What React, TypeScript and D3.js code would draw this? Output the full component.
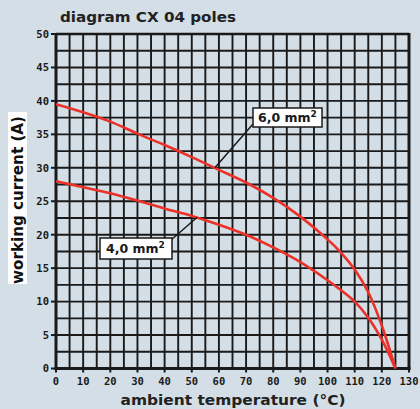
import React from "react";
import * as d3 from "d3";

const temps = [0, 10, 20, 30, 40, 50, 60, 70, 80, 90, 100, 105, 110, 115, 120, 125];
const current6 = [39.5, 38.3, 36.9, 35.1, 33.4, 31.6, 29.7, 27.8, 25.5, 22.7, 19.3, 17.3, 14.8, 11.4, 6.4, 0];
const current4 = [28.0, 27.1, 26.2, 25.1, 23.9, 22.8, 21.5, 20.0, 18.1, 15.9, 13.2, 11.7, 10.0, 7.6, 4.3, 0];
const xTicks = [0, 10, 20, 30, 40, 50, 60, 70, 80, 90, 100, 110, 120, 130];
const yTicks = [0, 5, 10, 15, 20, 25, 30, 35, 40, 45, 50];
const title = "diagram CX 04 poles";
const xLabel = "ambient temperature (°C)";
const yLabel = "working current (A)";

const W = 420;
const H = 409;
const BG = "#d3dee6";
const INK = "#1a1a1a";
const RED = "#ec3128";

export default function App() {
  const x = d3.scaleLinear().domain([0, 130]).range([56, 409]);
  const y = d3.scaleLinear().domain([0, 50]).range([368.5, 34]);

  const vGrid = d3.range(5, 130, 5);
  const hGrid = d3.range(2.5, 50, 2.5);

  const line = d3
    .line<number>()
    .x((_, i) => x(temps[i]))
    .y((d) => y(d))
    .curve(d3.curveCatmullRom.alpha(0.5));

  const mono = "'DejaVu Sans Mono', monospace";
  const sans = "'DejaVu Sans', sans-serif";

  return (
    <svg
      width={W}
      height={H}
      style={{ position: "absolute", left: 0, top: 0, background: BG }}
    >
      <rect x={0} y={0} width={W} height={H} fill={BG} />
      {/* grid */}
      {vGrid.map((v) => (
        <line key={"v" + v} x1={x(v)} x2={x(v)} y1={y(50)} y2={y(0)} stroke={INK} strokeWidth={1.9} />
      ))}
      {hGrid.map((v) => (
        <line key={"h" + v} x1={x(0)} x2={x(130)} y1={y(v)} y2={y(v)} stroke={INK} strokeWidth={1.9} />
      ))}
      {/* frame */}
      <line x1={x(0)} x2={x(130)} y1={y(50)} y2={y(50)} stroke={INK} strokeWidth={2.5} />
      <line x1={x(130)} x2={x(130)} y1={y(50) - 1} y2={y(0) + 1} stroke={INK} strokeWidth={3} />
      <line x1={x(0)} x2={x(0)} y1={y(50) - 1} y2={y(0) + 1.5} stroke={INK} strokeWidth={3} />
      <line x1={x(0) - 1.5} x2={x(130) + 1.5} y1={y(0)} y2={y(0)} stroke={INK} strokeWidth={3} />
      {/* ticks */}
      {yTicks.map((t) => (
        <line key={"yt" + t} x1={x(0) - 5} x2={x(0)} y1={y(t)} y2={y(t)} stroke={INK} strokeWidth={2} />
      ))}
      {xTicks.map((t) => (
        <line key={"xt" + t} x1={x(t)} x2={x(t)} y1={y(0)} y2={y(0) + 4} stroke={INK} strokeWidth={2} />
      ))}
      {/* tick labels */}
      {yTicks.map((t) => (
        <text
          key={"yl" + t}
          x={49}
          y={y(t) + 3.8}
          textAnchor="end"
          fontFamily={mono}
          fontWeight="bold"
          fontSize={10.5}
          fill={INK}
        >
          {t}
        </text>
      ))}
      {xTicks.map((t) => (
        <text
          key={"xl" + t}
          x={x(t)}
          y={384.5}
          textAnchor="middle"
          fontFamily={mono}
          fontWeight="bold"
          fontSize={10.5}
          fill={INK}
        >
          {t}
        </text>
      ))}
      {/* curves */}
      <path d={line(current6) || ""} fill="none" stroke={RED} strokeWidth={2.6} />
      <path d={line(current4) || ""} fill="none" stroke={RED} strokeWidth={2.6} />
      {/* leaders */}
      <line x1={253} y1={124} x2={x(58.5)} y2={y(30)} stroke={INK} strokeWidth={1.5} />
      <line x1={171} y1={240} x2={x(52)} y2={y(22.6)} stroke={INK} strokeWidth={1.5} />
      {/* label boxes */}
      <rect x={253} y={108} width={69} height={19} fill="#fff" stroke={INK} strokeWidth={1.5} />
      <text x={258} y={122} fontFamily={sans} fontWeight="bold" fontSize={12.5} fill={INK}>
        6,0 mm
        <tspan fontSize={9} dy={-5}>2</tspan>
      </text>
      <rect x={100} y={238} width={72} height={21} fill="#fff" stroke={INK} strokeWidth={1.5} />
      <text x={106} y={253} fontFamily={sans} fontWeight="bold" fontSize={12.5} fill={INK}>
        4,0 mm
        <tspan fontSize={9} dy={-5}>2</tspan>
      </text>
      {/* title */}
      <text x={60} y={22} fontFamily={sans} fontWeight="bold" fontSize={14} fill="#222" textLength={176} lengthAdjust="spacingAndGlyphs">
        {title}
      </text>
      {/* x label */}
      <text x={233} y={405} textAnchor="middle" fontFamily={sans} fontWeight="bold" fontSize={14} fill="#222" textLength={225} lengthAdjust="spacingAndGlyphs">
        {xLabel}
      </text>
      {/* y label */}
      <rect x={8} y={112} width={19} height={172} fill="#fff" />
      <text
        transform="translate(23,200) rotate(-90)"
        textAnchor="middle"
        fontFamily={sans}
        fontWeight="bold"
        fontSize={15}
        fill="#111"
        textLength={168}
        lengthAdjust="spacingAndGlyphs"
      >
        {yLabel}
      </text>
    </svg>
  );
}
